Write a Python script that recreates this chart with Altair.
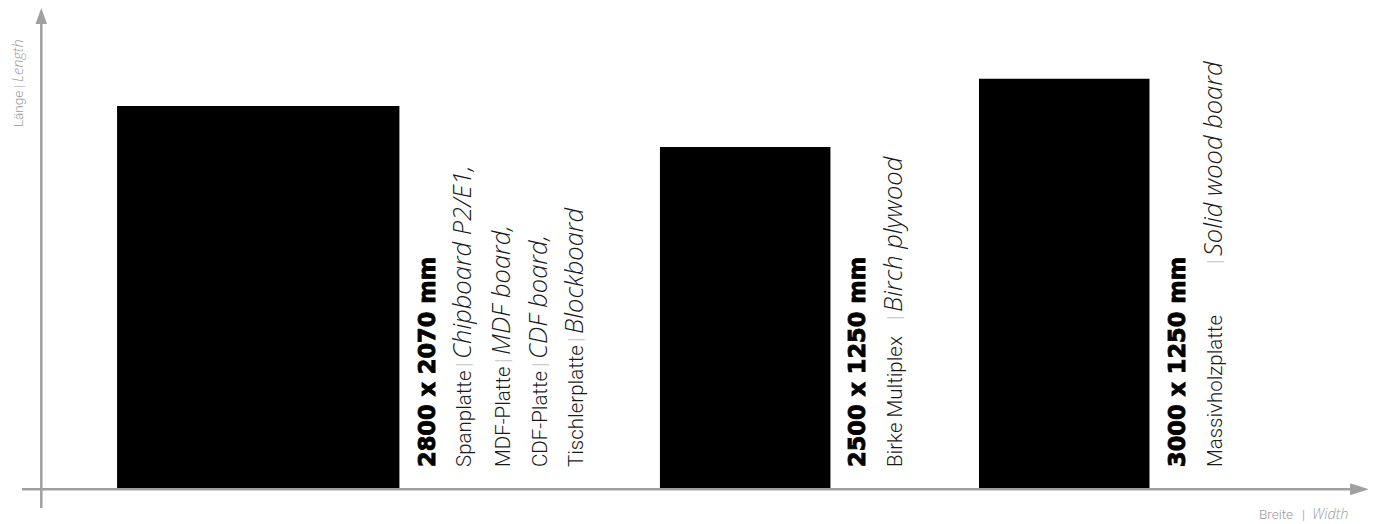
import altair as alt
import pandas as pd

# ---- data (mm) ----
boards = ["2800 x 2070 mm", "2500 x 1250 mm", "3000 x 1250 mm"]
lengths = [2800, 2500, 3000]
widths = [2070, 1250, 1250]
gaps = [565, 1910, 1089]          # spacing before each board (mm)

lines_de = [
    ["Spanplatte", "MDF-Platte", "CDF-Platte", "Tischlerplatte"],
    ["Birke Multiplex"],
    ["Massivholzplatte"],
]
lines_en = [
    ["Chipboard P2/E1,", "MDF board,", "CDF board,", "Blockboard"],
    ["Birch plywood"],
    ["Solid wood board"],
]
x_title_de, x_title_en = "Breite", "Width"
y_title_de, y_title_en = "Länge", "Length"

# ---- layout ----
K = 0.1364                 # px per mm
W, H = 1360, 516
OX, OY = 32, 480           # origin in plot px
XMIN, XMAX = -OX / K, (W - OX) / K
YMIN, YMAX = (OY - H) / K, OY / K
AXIS = "#a0a0a0"
SEP = "#c4c4c4"
TXT = "#1a1a1a"
REG = dict(font="Roboto", fontWeight=300, fontSize=20.5)
ITA = dict(font="Open Sans", fontWeight=300, fontStyle="italic", fontSize=25.5)
BOLD = dict(font="DejaVu Sans", fontWeight="bold", fontSize=22.5,
            stroke="black", strokeWidth=0.9)

x0, cur = [], 0
for g, w in zip(gaps, widths):
    cur += g
    x0.append(cur)
    cur += w
rects = pd.DataFrame({"board": boards, "x0": x0,
                      "x1": [a + w for a, w in zip(x0, widths)],
                      "y0": [0] * 3, "y1": lengths})

# text segments: offsets along text (px) and baseline distance from rect edge (px)
line_base = [[72, 111, 148, 184], [72], [73]]
sep_off = [[100, 104, 100, 125], [147], [203]]
bold_base = [36, 35, 36]
start = 21
segs = []
for i, b in enumerate(boards):
    xr = rects.x1[i]
    segs.append(dict(t=b, s="bold", x=xr + bold_base[i] / K, y=start / K))
    for j, (de, en) in enumerate(zip(lines_de[i], lines_en[i])):
        xb = xr + line_base[i][j] / K
        so = sep_off[i][j]
        segs.append(dict(t=de, s="reg", x=xb, y=start / K))
        segs.append(dict(t="|", s="sep", x=xb, y=(start + so) / K))
        segs.append(dict(t=en, s="ita", x=xb, y=(start + so + 8) / K))
segs = pd.DataFrame(segs)

xs = alt.Scale(domain=[XMIN, XMAX], nice=False, zero=False)
ys = alt.Scale(domain=[YMIN, YMAX], nice=False, zero=False)
X = lambda f: alt.X(f, type="quantitative", scale=xs, axis=None)
Y = lambda f: alt.Y(f, type="quantitative", scale=ys, axis=None)

bars = alt.Chart(rects).mark_rect(color="black").encode(
    x=X("x0"), x2="x1", y=Y("y0"), y2="y1")

ax_df = pd.DataFrame({"x": [-132, 9.5], "x2": [9620, 9.5],
                      "y": [-9.5, -146.6], "y2": [-9.5, 3402]})
axes = alt.Chart(ax_df).mark_rule(color=AXIS, strokeWidth=2.5).encode(
    x=X("x"), x2="x2", y=Y("y"), y2="y2")

arr_r = alt.Chart(pd.DataFrame({"x": [9674], "y": [-9.5]})).mark_point(
    shape="M-1,-0.63L1,0L-1,0.63Z", size=361, filled=True, color=AXIS, opacity=1
).encode(x=X("x"), y=Y("y"))
arr_u = alt.Chart(pd.DataFrame({"x": [9.5], "y": [3460]})).mark_point(
    shape="M-0.72,1L0,-1L0.72,1Z", size=256, filled=True, color=AXIS, opacity=1
).encode(x=X("x"), y=Y("y"))

def txt(df, style, angle, color, props):
    return alt.Chart(df).transform_filter(alt.datum.s == style).mark_text(
        angle=angle, align="left", baseline="alphabetic", color=color, **props
    ).encode(x=X("x"), y=Y("y"), text="t:N")

t_bold = txt(segs, "bold", 270, "black", BOLD)
t_reg = txt(segs, "reg", 270, TXT, REG)
t_sep = txt(segs, "sep", 270, SEP, REG)
t_ita = txt(segs, "ita", 270, TXT, ITA)

# axis titles
TG = "#9a9a9a"
TREG = dict(font="Roboto", fontWeight=300, fontSize=13.5)
TITA = dict(font="Open Sans", fontWeight=300, fontStyle="italic", fontSize=14.5)
xt = pd.DataFrame({"t": [x_title_de, "|", x_title_en], "s": ["reg", "sep", "ita"],
                   "x": [(1259 - 40) / K, (1302 - 40) / K, (1312 - 40) / K],
                   "y": [-227] * 3})
yt = pd.DataFrame({"t": [y_title_de, "|", y_title_en], "s": ["reg", "sep", "ita"],
                   "x": [(23 - 40) / K] * 3,
                   "y": [(488 - 127) / K, (488 - 88) / K, (488 - 82) / K]})
titles = []
for df, ang in [(xt, 0), (yt, 270)]:
    titles += [txt(df, "reg", ang, TG, TREG), txt(df, "sep", ang, TG, TREG),
               txt(df, "ita", ang, TG, TITA)]

chart = alt.layer(
    axes, arr_r, arr_u, bars, t_bold, t_reg, t_sep, t_ita, *titles
).properties(
    width=W, height=H, autosize=alt.AutoSizeParams(type="none"),
    padding=0, background="white"
).configure_view(stroke=None)

chart.save("out.html", embed_options={"renderer": "svg", "actions": False})
